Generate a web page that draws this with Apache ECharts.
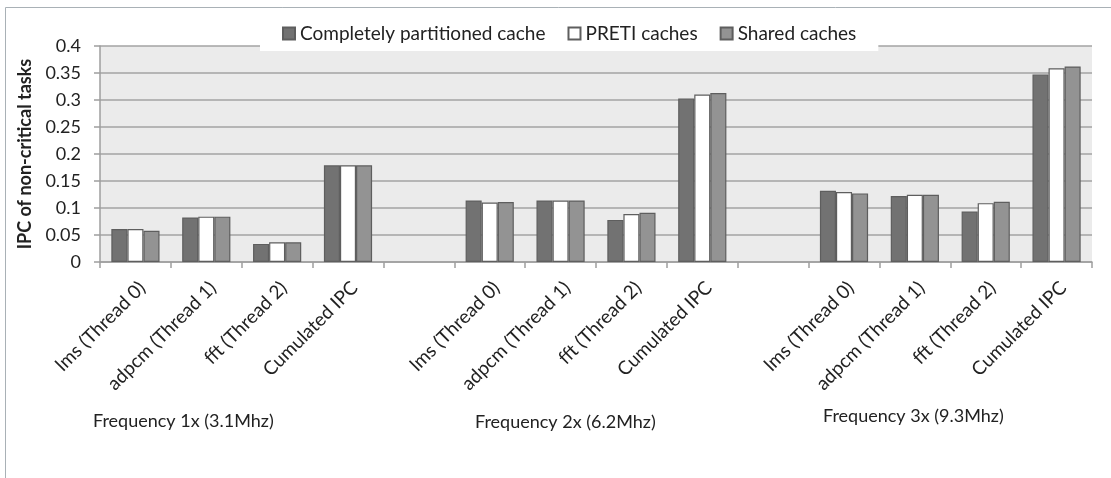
<!DOCTYPE html>
<html>
<head>
<meta charset="utf-8">
<script src="https://cdn.jsdelivr.net/npm/echarts@6/dist/echarts.min.js"></script>
<style>
  html, body { margin: 0; padding: 0; background: #fff; }
  #main { width: 1111px; height: 478px; }
</style>
</head>
<body>
<div id="main"></div>
<script>
const FONT = 'Lato, "Open Sans", sans-serif';

// tasks inside each frequency group
const tasks = ['lms (Thread 0)', 'adpcm (Thread 1)', 'fft (Thread 2)', 'Cumulated IPC'];
const freqGroups = ['Frequency 1x (3.1Mhz)', 'Frequency 2x (6.2Mhz)', 'Frequency 3x (9.3Mhz)'];
const seriesNames = ['Completely partitioned cache', 'PRETI caches', 'Shared caches'];

// IPC per task, groups in order 1x / 2x / 3x
const partitioned = [0.061, 0.0825, 0.0335, 0.179,  0.114, 0.114, 0.078, 0.303,  0.132, 0.122, 0.0935, 0.347];
const preti       = [0.061, 0.084, 0.0365, 0.179,   0.110, 0.114, 0.0887, 0.310, 0.1295, 0.1245, 0.109, 0.3587];
const shared      = [0.058, 0.084, 0.0365, 0.179,   0.111, 0.114, 0.091, 0.313,  0.127, 0.1245, 0.1115, 0.362];

const yTicks = { min: 0, max: 0.4, interval: 0.05 };

// one empty slot between frequency groups
const categories = [];
freqGroups.forEach((g, gi) => {
  tasks.forEach(t => categories.push(t));
  if (gi < freqGroups.length - 1) categories.push('');
});
function withGaps(vals) {
  const out = [];
  freqGroups.forEach((g, gi) => {
    for (let i = 0; i < tasks.length; i++) out.push(vals[gi * tasks.length + i]);
    if (gi < freqGroups.length - 1) out.push('-');
  });
  return out;
}

const fills = ['#727272', '#ffffff', '#939393'];
const allData = [partitioned, preti, shared];

const chart = echarts.init(document.getElementById('main'));

chart.setOption({
  backgroundColor: '#fff',
  animation: false,
  textStyle: { fontFamily: FONT },
  legend: {
    top: 16,
    left: 260,
    backgroundColor: '#fff',
    padding: [8, 22, 8, 22],
    itemWidth: 12,
    itemHeight: 12,
    itemGap: 22,
    icon: 'rect',
    textStyle: { fontFamily: FONT, fontSize: 19, color: '#222' },
    data: seriesNames
  },
  grid: {
    left: 100, right: 19, top: 46, bottom: 216,
    show: true, backgroundColor: '#ebebeb', borderWidth: 0
  },
  xAxis: {
    type: 'category',
    data: categories,
    axisLine: { lineStyle: { color: '#9e9e9e', width: 1.5 } },
    axisTick: { show: true, length: 6, lineStyle: { color: '#9e9e9e', width: 1.5 } },
    axisLabel: {
      interval: 0, rotate: 45, margin: 16,
      align: 'right', verticalAlign: 'top',
      fontFamily: FONT, fontSize: 19, color: '#222'
    }
  },
  yAxis: {
    type: 'value',
    min: yTicks.min, max: yTicks.max, interval: yTicks.interval,
    name: 'IPC of non-critical tasks',
    nameLocation: 'middle',
    nameGap: 64,
    nameTextStyle: { fontFamily: FONT, fontSize: 18, fontWeight: 'bold', color: '#222' },
    axisLine: { show: true, lineStyle: { color: '#9e9e9e', width: 1.5 } },
    axisTick: { show: true, length: 6, lineStyle: { color: '#9e9e9e', width: 1.5 } },
    axisLabel: { margin: 19, fontFamily: FONT, fontSize: 18, color: '#222' },
    splitLine: { lineStyle: { color: '#a3a3a3', width: 1.5 } }
  },
  series: seriesNames.map((name, i) => ({
    name,
    type: 'bar',
    data: withGaps(allData[i]),
    barGap: '0%',
    barCategoryGap: '32%',
    itemStyle: { color: fills[i], borderColor: '#5e5e5e', borderWidth: 1.2 }
  })),
  graphic: [
    {
      type: 'rect', z: -1, silent: true,
      shape: { x: 5.5, y: 7.5, width: 1120, height: 490 },
      style: { fill: 'none', stroke: '#a9b1b6', lineWidth: 1 }
    },
    ...freqGroups.map((g, gi) => ({
      type: 'text',
      left: [93, 475, 823][gi],
      top: [412, 413, 407][gi],
      style: { text: g, fontFamily: FONT, fontSize: 18, fill: '#222' }
    }))
  ]
});
</script>
</body>
</html>
